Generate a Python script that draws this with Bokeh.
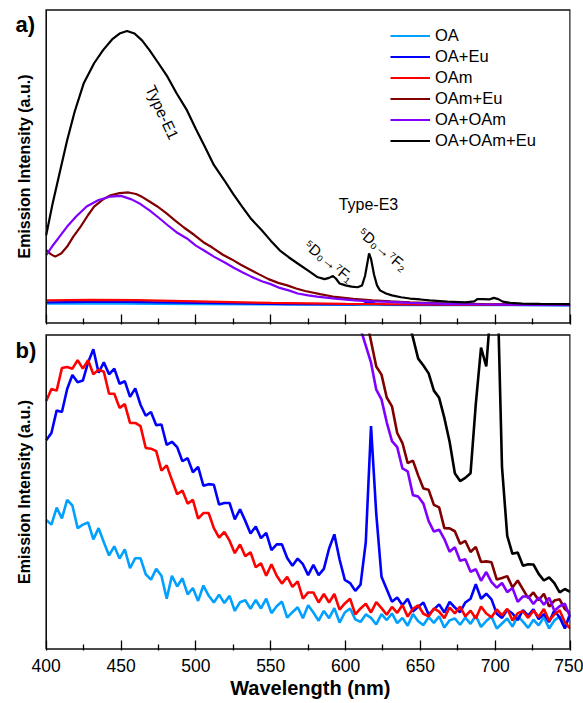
from bokeh.plotting import figure
from bokeh.layouts import column
from bokeh.models import (Legend, LegendItem, Label, FixedTicker, Range1d,
                          CustomLabelingPolicy, Title)
from bokeh.embed import file_html
from bokeh.resources import INLINE
import math

# ---------------- data ----------------
series_names = ["OA", "OA+Eu", "OAm", "OAm+Eu", "OA+OAm", "OA+OAm+Eu"]
series_colors = ["#00A0FF", "#0000FF", "#FF0000", "#800000", "#8000FF", "#000000"]
x_ticks = [400, 450, 500, 550, 600, 650, 700, 750]
x_minor = [425, 475, 525, 575, 625, 675, 725]
x_limits = [400, 750]
y_limits = [0, 100]

# panel a) (full scale)
wl_a_OA = [400, 450, 500, 550, 600, 650, 700, 750]
a_OA = [6.2, 6.2, 6.0, 5.9, 5.8, 5.7, 5.7, 5.6]
wl_a_OAEu = [400, 440, 500, 560, 605, 612, 616, 620, 627, 680, 750]
a_OAEu = [6.6, 6.8, 6.4, 6.0, 5.9, 6.1, 6.8, 6.1, 5.9, 5.8, 5.7]
wl_a_OAm = [400, 430, 460, 500, 550, 600, 650, 700, 750]
a_OAm = [7.2, 7.4, 7.3, 6.9, 6.4, 6.1, 5.9, 5.8, 5.8]
wl_a_OAmEu = [400, 403, 406, 410, 414, 418, 423, 428, 432, 438, 443, 449, 455, 460,
              464, 469, 474, 480, 486, 492, 499, 505, 511, 518, 524, 530, 536, 542,
              548.5, 555, 561, 567, 573, 583, 593, 605, 618, 630, 643, 668, 693, 720, 750]
a_OAmEu = [23.3, 22, 21.2, 22.2, 24.4, 27.5, 30.8, 34.5, 37.2, 39.5, 40.8, 41.5, 41.7, 41.2,
           40.3, 38.8, 37.3, 35.2, 32.8, 30.5, 28.1, 25.8, 24.1, 21.8, 20.3, 18.6, 17.1, 15.6,
           14, 12.8, 12, 11, 10.2, 9.2, 8.3, 7.7, 7.2, 6.9, 6.6, 6.2, 6.0, 5.9, 5.8]
wl_a_OAOAm = [400, 404, 408, 414, 420, 427, 435, 443, 450, 457, 463, 469, 475, 481, 487,
              494, 500, 506, 512, 519, 525, 531, 537, 544, 550, 556, 562, 568, 575, 581,
              593, 606, 618, 630, 643, 668, 693, 720, 750]
a_OAOAm = [21.7, 24.5, 27, 30.8, 34, 37.2, 39.3, 40.4, 40.6, 39.5, 38, 36, 33.7, 31.3, 29,
           27, 24.7, 23, 21.2, 19.4, 17.7, 16.2, 14.8, 13.3, 12.4, 11.2, 10.4, 9.4, 8.8, 8.4,
           7.8, 7.2, 6.9, 6.7, 6.4, 6.1, 5.9, 5.8, 5.8]
wl_a_OAOAmEu = [400, 404, 409, 414, 419, 425, 432, 438, 444, 449, 454, 459, 464, 469, 475,
                481, 487, 494, 500, 506, 512, 519, 525, 531, 537, 544, 550, 556, 562, 568,
                575, 581, 586, 589, 591.5, 593.5, 596, 600, 604, 608, 611, 613, 614.5, 615.7,
                617, 619, 621, 623, 627, 631, 637, 643, 650, 656, 668, 680, 686, 688, 692,
                696, 699, 702, 705, 710, 718, 730, 750]
a_OAOAmEu = [28.0, 37.5, 48, 58.4, 67.5, 76.5, 83, 87.2, 90.6, 92.5, 93.3, 92.5, 90.3, 87.2, 83,
             78.7, 73.5, 68, 62, 56.3, 50.5, 45.6, 41.2, 37.1, 33.2, 29.6, 26.3, 23.2, 21, 19,
             16.7, 14.7, 14, 14.4, 15, 14.2, 12.6, 12, 11.6, 11.4, 12, 15, 19, 22.2,
             20.5, 15.5, 12, 10.4, 9.4, 8.8, 8.2, 7.8, 7.5, 7.2, 6.8, 6.6, 6.9, 7.6, 7.6,
             7.5, 8.0, 7.6, 6.8, 6.4, 6.2, 6.1, 6.0]

# panel b) (magnified), sampled every 3.5 nm from 400 to 750 nm
wl_b = [400 + 3.5 * i for i in range(101)]
b_OA = [41.1, 39.6, 45, 41.6, 47.5, 45.7, 38.5, 39.6, 40.3, 34.9,
        38.5, 34, 29.8, 32.7, 28.8, 31.7, 25.7, 28.9, 28.9, 23.8,
        22.1, 25.5, 23.3, 16, 23.3, 19.9, 22.5, 17.4, 19.4, 15.3,
        20.2, 17, 14.8, 17.3, 14.6, 16.9, 12.1, 14.9, 15.5, 12.8,
        15.6, 12.9, 16, 11.4, 13.6, 15.1, 10, 11.7, 13.3, 9.8,
        13.9, 11.6, 9, 12.1, 9.8, 13, 8.4, 11.6, 12.9, 9.4,
        8.6, 11, 9.9, 7.8, 11.1, 9.2, 11.3, 8.2, 9.9, 7.4,
        11.1, 8.8, 7.6, 10.1, 8.3, 10.4, 6.8, 9.1, 9.7, 7.7,
        10, 8, 10.6, 7, 8.9, 10.3, 6.5, 8.1, 9.7, 7.1,
        10.5, 8.7, 6.7, 9.3, 7.5, 10.1, 6.5, 9.1, 10.3, 7.7, 6.9]
b_OAEu = [66.5, 68.8, 76, 75.5, 82.8, 87.3, 85, 85.5, 91.3, 95.5,
          88, 91.3, 87.5, 89.3, 84.5, 85.3, 80.3, 83, 77.8, 74.3,
          75.5, 71.3, 71.5, 65, 66, 64.3, 59.8, 60.8, 56.3, 58,
          52, 52.5, 52.3, 46, 46.5, 46.5, 41.3, 44.5, 40.8, 36.8,
          39, 35.3, 37, 31.5, 33.3, 33.3, 29, 26.5, 28.8, 27,
          23.5, 26.8, 23.5, 25.5, 32, 36.5, 28.5, 22, 21, 18.5,
          20.5, 34, 71, 43, 23, 19, 15, 16.4, 13.9, 16,
          11.9, 13.4, 14.8, 11, 12.6, 14.2, 11.6, 15, 13.2, 11.7,
          14.8, 16, 20.6, 16, 17.6, 15.8, 11.2, 9.9, 12.5, 11.3,
          9.2, 12.4, 10.6, 12.6, 9.5, 11.1, 8.6, 12.3, 10, 6.5, 11.2]
b_OAm = [79, 82.8, 82.3, 89.5, 89.8, 89.3, 92, 89.3, 92, 87.5,
         89, 88.3, 81.3, 81.3, 76.8, 78, 72, 72, 71, 64,
         63.8, 63, 56.8, 58.5, 53.8, 49.3, 50.5, 46.3, 47.5, 41.5,
         43.3, 43.3, 38.5, 35.5, 37.3, 34.5, 30.5, 33.3, 29.5, 30.8,
         26, 27.3, 23.3, 27, 23.3, 20.8, 23, 19.8, 21.5, 16,
         18, 18, 14.8, 17.5, 14.8, 17.5, 12.5, 14.5, 16, 11,
         12.9, 14.4, 11.6, 14.9, 13, 10.9, 13.4, 11.5, 14, 10.3,
         12.8, 13.9, 11.2, 10.4, 12.9, 11.9, 9.8, 13.2, 11.3, 13.5,
         10.4, 12.2, 9.7, 13.5, 11.3, 10.1, 12.6, 10.7, 12.8, 9.1,
         11.4, 12, 9.9, 12.2, 10.2, 12.7, 9, 11, 12.3, 8.5, 6.5]
b_OAOAm = [111.8, 102, 96.6, 91.2, 82.6, 79.5, 72.2, 66.2, 64.3, 57.5,
           56.6, 49, 48.6, 46.3, 40.7, 37.4, 38, 35, 31, 32.4,
           28.1, 28.6, 24.6, 25.4, 21.7, 24.5, 21.3, 19.5, 21, 18.1,
           19.4, 15, 16.7, 16.7, 14.3, 16.4, 14.1, 16.3, 12.2, 13.6,
           14.4, 10.2]                       # from 606.5 nm
b_OAmEu = [110.4, 106, 98, 90, 87.4, 80.1, 77.3, 68.8, 65.6, 59.2,
           60, 55.3, 51.1, 50.7, 45.9, 45.1, 38.5, 38.4, 37.5, 33.5,
           34.4, 30.9, 32.5, 27.7, 27.9, 27.6, 22.1, 22.6, 23.2, 19.6,
           21.8, 19, 16.2, 18, 15.5, 17.6, 13.5, 15.4, 15.8, 12.7, 11.4]   # from 610 nm
b_OAOAmEu = [116.9, 105.5, 99.2, 92.5, 90.3, 87.8, 82.3, 80, 73.6, 66,
             56, 53.5, 54.5, 56, 78, 96, 90, 112, 125, 58,
             36, 30.3, 30.7, 26.5, 27, 26.9, 23.9, 21.8, 22.8, 21,
             18, 19.1, 18.2]                 # from 638 nm

FONT = "Liberation Sans"
YLABEL = "Emission Intensity (a.u.)"
XLABEL = "Wavelength (nm)"

# ---------------- geometry ----------------
# The bokeh frame is widened to the left so that the panel tags and the
# y-axis titles (which sit left of the drawn box) are inside the frame.
FRAME_W = 560
LEFT_PAD_PX = 35.7                     # box starts this far right of the frame edge
PX_PER_NM = 523.9 / 350.0
X_START = x_limits[0] - LEFT_PAD_PX / PX_PER_NM
X_END = X_START + FRAME_W / PX_PER_NM
Y_PAD = 0.5


def px_to_x(px_from_frame_left):
    return X_START + px_from_frame_left / PX_PER_NM


def make_panel(frame_h, top, bottom, label_ticks):
    p = figure(frame_width=FRAME_W, frame_height=frame_h,
               x_range=Range1d(X_START, X_END),
               y_range=Range1d(y_limits[0] - Y_PAD, y_limits[1] + Y_PAD),
               output_backend="svg", toolbar_location=None,
               min_border_left=10, min_border_right=13,
               min_border_top=top, min_border_bottom=bottom)
    p.grid.visible = False
    p.outline_line_color = None
    p.background_fill_color = "white"
    p.border_fill_color = "white"
    p.yaxis.visible = False
    xa = p.xaxis[0]
    xa.ticker = FixedTicker(ticks=x_ticks, minor_ticks=x_minor)
    xa.axis_line_color = None
    xa.major_tick_in = 10
    xa.major_tick_out = 0
    xa.minor_tick_in = 6
    xa.minor_tick_out = 0
    xa.major_tick_line_width = 1.3
    xa.minor_tick_line_width = 1.3
    xa.major_tick_line_color = "black"
    xa.minor_tick_line_color = "black"
    if label_ticks:
        xa.major_label_text_font = FONT
        xa.major_label_text_font_size = "17.5px"
        xa.major_label_text_color = "black"
        xa.major_label_standoff = 8
    else:
        xa.major_label_text_font_size = "1px"
        xa.major_label_standoff = 0
        xa.major_label_policy = CustomLabelingPolicy(code="return new Set()")
    # y-axis title
    p.add_layout(Label(x=px_to_x(14), y=50, text=YLABEL, angle=math.pi / 2,
                       text_align="center", text_baseline="middle",
                       text_font=FONT, text_font_style="bold", text_font_size="16px",
                       text_color="black"))
    return p


def add_box(p):
    # the plot box, drawn as a closed line on top of the curves
    bx = [x_limits[0], x_limits[1], x_limits[1], x_limits[0], x_limits[0]]
    by = [y_limits[0], y_limits[0], y_limits[1], y_limits[1], y_limits[0]]
    p.line(bx, by, line_color="#111111", line_alpha=1.0, line_width=1.6,
           line_join="miter")


def panel_tag(p, text, frame_h, px_below_top):
    y = y_limits[1] + Y_PAD - px_below_top * (100 + 2 * Y_PAD) / frame_h
    p.add_layout(Label(x=px_to_x(5), y=y, text=text,
                       text_font=FONT, text_font_style="bold", text_font_size="22px",
                       text_align="left", text_baseline="top", text_color="black"))


# ---------------- panel a ----------------
A_TOP, A_FRAME, A_BOTTOM = 8, 316, 5
pa = make_panel(A_FRAME, A_TOP, A_BOTTOM, False)
a_x = [wl_a_OA, wl_a_OAEu, wl_a_OAm, wl_a_OAmEu, wl_a_OAOAm, wl_a_OAOAmEu]
a_y = [a_OA, a_OAEu, a_OAm, a_OAmEu, a_OAOAm, a_OAOAmEu]
items = []
for name, col, xs, ys in zip(series_names, series_colors, a_x, a_y):
    r = pa.line(xs, ys, line_color=col, line_width=2.2)
    items.append(LegendItem(label=name, renderers=[r]))
add_box(pa)

legend = Legend(items=items, location=(380, 173.5), orientation="vertical",
                border_line_color=None, background_fill_alpha=0,
                padding=0, margin=0, spacing=0,
                label_height=21, glyph_height=21, glyph_width=40, label_standoff=5,
                label_text_font=FONT, label_text_font_size="16.5px",
                label_text_color="black")
pa.add_layout(legend)

panel_tag(pa, "a)", A_FRAME, 3.5)
pa.add_layout(Label(x=477.5, y=67.3, text="Type-E1", angle=math.radians(-65),
                    text_align="center", text_baseline="middle",
                    text_font=FONT, text_font_size="15.5px", text_color="black"))
pa.add_layout(Label(x=615.3, y=37.7, text="Type-E3",
                    text_align="center", text_baseline="middle",
                    text_font=FONT, text_font_size="16px", text_color="black"))
pa.add_layout(Label(x=588.9, y=19.8, text="\u2075D\u2080\u2192\u2077F\u2081",
                    angle=math.radians(-39),
                    text_align="center", text_baseline="middle",
                    text_font=FONT, text_font_size="15px", text_color="black"))
pa.add_layout(Label(x=625.0, y=23.6, text="\u2075D\u2080\u2192\u2077F\u2082",
                    angle=math.radians(-40),
                    text_align="center", text_baseline="middle",
                    text_font=FONT, text_font_size="15px", text_color="black"))

# ---------------- panel b ----------------
B_TOP, B_FRAME, B_BOTTOM = 4, 317, 53
pb = make_panel(B_FRAME, B_TOP, B_BOTTOM, True)
pb.x_range = pa.x_range
b_x = [wl_b, wl_b, wl_b, wl_b[60:], wl_b[59:], wl_b[68:]]
b_y = [b_OA, b_OAEu, b_OAm, b_OAmEu, b_OAOAm, b_OAOAmEu]
for col, xs, ys in zip(series_colors, b_x, b_y):
    pb.line(xs, ys, line_color=col, line_width=2.6)
add_box(pb)

panel_tag(pb, "b)", B_FRAME, 4)

# x-axis title, centred under the drawn box (not under the widened frame):
# left-aligned title, offset so that its centre falls on the box centre
XLABEL_SIZE = 20
xlabel_width = 7.8 * XLABEL_SIZE              # measured advance width of the text
box_centre_px = LEFT_PAD_PX + 523.9 / 2.0     # from frame left
pb.add_layout(Title(text=XLABEL, align="left",
                    offset=box_centre_px - xlabel_width / 2.0,
                    standoff=1, text_font=FONT, text_font_style="bold",
                    text_font_size=f"{XLABEL_SIZE}px", text_color="black"), "below")

layout = column(pa, pb, spacing=0)
open("out.html", "w").write(file_html(layout, INLINE))
